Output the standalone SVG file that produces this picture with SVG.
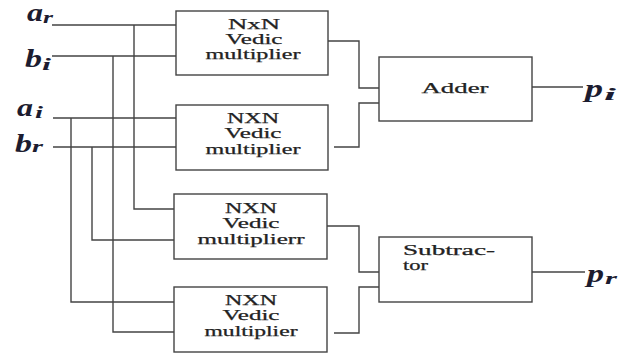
<svg xmlns="http://www.w3.org/2000/svg" width="627" height="354" viewBox="0 0 627 354">
<style>
.box{fill:#fff;stroke:#444;stroke-width:1.4}
.w{fill:none;stroke:#444;stroke-width:1.4}
.t{font-family:"Liberation Serif",serif;font-size:14px;fill:#222;text-anchor:middle;stroke:#222;stroke-width:0.25}
.ts{text-anchor:start}
.m{font-family:"Liberation Serif",serif;font-style:italic;font-weight:bold;fill:#1c1c30}
.v{font-size:25px}
.s{font-size:16px}
</style>
<rect width="627" height="354" fill="#fff"/>
<g id="connectors">
<path class="w" d="M52 25H176M134 25V209H174"/>
<path class="w" d="M52 56H176M113 56V332H174"/>
<path class="w" d="M53 118H176M71 118V302H174"/>
<path class="w" d="M53 147H176M92 147V240H174"/>
<path class="w" d="M328 41H359V88H380"/>
<path class="w" d="M334 147H359V103H380"/>
<path class="w" d="M327 226H359V272H380"/>
<path class="w" d="M334 333H359V287H380"/>
<path class="w" d="M532 87H583"/>
<path class="w" d="M532 272H585"/>
</g>
<g id="m1"><rect class="box" x="176" y="11" width="152" height="64"/>
<text class="t" x="254" y="29" textLength="52" lengthAdjust="spacingAndGlyphs">NxN</text>
<text class="t" x="254" y="44" textLength="57" lengthAdjust="spacingAndGlyphs">Vedic</text>
<text class="t" x="253" y="59" textLength="95" lengthAdjust="spacingAndGlyphs">multiplier</text></g>
<g id="m2"><rect class="box" x="176" y="105" width="152" height="65"/>
<text class="t" x="253" y="123" textLength="52" lengthAdjust="spacingAndGlyphs">NXN</text>
<text class="t" x="253" y="138" textLength="57" lengthAdjust="spacingAndGlyphs">Vedic</text>
<text class="t" x="253" y="154" textLength="95" lengthAdjust="spacingAndGlyphs">multiplier</text></g>
<g id="m3"><rect class="box" x="174" y="194" width="153" height="65"/>
<text class="t" x="251" y="213" textLength="52" lengthAdjust="spacingAndGlyphs">NXN</text>
<text class="t" x="251" y="228" textLength="57" lengthAdjust="spacingAndGlyphs">Vedic</text>
<text class="t" x="251" y="244" textLength="107" lengthAdjust="spacingAndGlyphs">multiplierr</text></g>
<g id="m4"><rect class="box" x="174" y="287" width="153" height="65"/>
<text class="t" x="251" y="305" textLength="52" lengthAdjust="spacingAndGlyphs">NXN</text>
<text class="t" x="251" y="320" textLength="57" lengthAdjust="spacingAndGlyphs">Vedic</text>
<text class="t" x="251" y="336" textLength="93" lengthAdjust="spacingAndGlyphs">multiplier</text></g>
<g id="adder"><rect class="box" x="379" y="57" width="153" height="64"/>
<text class="t" x="455" y="93" textLength="67" lengthAdjust="spacingAndGlyphs">Adder</text></g>
<g id="sub"><rect class="box" x="379" y="237" width="153" height="65"/>
<text class="t ts" x="403" y="255" textLength="92" lengthAdjust="spacingAndGlyphs">Subtrac-</text>
<text class="t ts" x="403" y="270" textLength="25" lengthAdjust="spacingAndGlyphs">tor</text></g>
<g id="labels">
<text class="m v" x="27" y="21" textLength="16" lengthAdjust="spacingAndGlyphs">a</text><text class="m s" x="43" y="23" textLength="10" lengthAdjust="spacingAndGlyphs">r</text>
<text class="m v" x="25" y="67" textLength="17" lengthAdjust="spacingAndGlyphs">b</text><text class="m s" x="42" y="70" textLength="9" lengthAdjust="spacingAndGlyphs">i</text>
<text class="m v" x="17" y="116" textLength="16" lengthAdjust="spacingAndGlyphs">a</text><text class="m s" x="35" y="118" textLength="8" lengthAdjust="spacingAndGlyphs">i</text>
<text class="m v" x="15" y="152" textLength="17" lengthAdjust="spacingAndGlyphs">b</text><text class="m s" x="32" y="152" textLength="11" lengthAdjust="spacingAndGlyphs">r</text>
<text class="m v" x="585" y="97" textLength="18" lengthAdjust="spacingAndGlyphs">p</text><text class="m s" x="604" y="100" textLength="12" lengthAdjust="spacingAndGlyphs">i</text>
<text class="m v" x="587" y="282" textLength="17" lengthAdjust="spacingAndGlyphs">p</text><text class="m s" x="605" y="284" textLength="12" lengthAdjust="spacingAndGlyphs">r</text>
</g>
</svg>
